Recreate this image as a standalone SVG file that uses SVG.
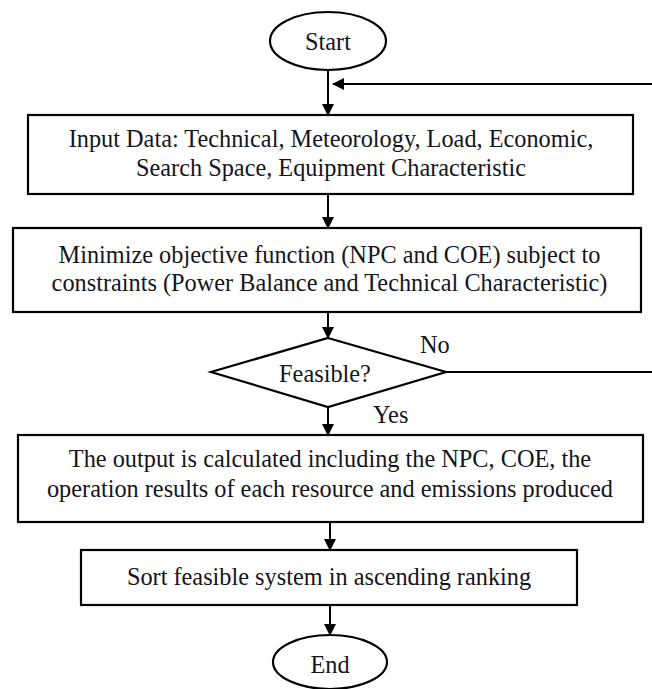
<svg xmlns="http://www.w3.org/2000/svg" width="652" height="689" viewBox="0 0 652 689">
<defs>
<marker id="ah" markerWidth="12" markerHeight="14" refX="11" refY="6" orient="auto" markerUnits="userSpaceOnUse" viewBox="0 0 12 12">
<path d="M0,0 L12,6 L0,12 Z" fill="#000"/>
</marker>
<style>
.n{fill:#fff;stroke:#000;stroke-width:2.2}
text{font-family:'Liberation Serif','Times New Roman',serif;font-size:24.3px;fill:#141420}
.t{text-anchor:middle}
.c{fill:none;stroke:#000;stroke-width:2}
</style>
</defs>
<rect width="652" height="689" fill="#fff"/>
<g id="connectors">
<line class="c" x1="328" y1="70" x2="328" y2="115" marker-end="url(#ah)"/>
<path class="c" d="M446,372 H662 V84 H333" marker-end="url(#ah)"/>
<line class="c" x1="328" y1="194" x2="328" y2="228" marker-end="url(#ah)"/>
<line class="c" x1="328" y1="312" x2="328" y2="338" marker-end="url(#ah)"/>
<line class="c" x1="328" y1="407" x2="328" y2="435" marker-end="url(#ah)"/>
<line class="c" x1="330" y1="522" x2="330" y2="550" marker-end="url(#ah)"/>
<line class="c" x1="330" y1="605" x2="330" y2="635" marker-end="url(#ah)"/>
<text x="420" y="353">No</text>
<text x="373" y="423">Yes</text>
</g>
<g id="start">
<ellipse class="n" cx="328" cy="41" rx="58" ry="29"/>
<text class="t" x="328" y="50">Start</text>
</g>
<g id="input">
<rect class="n" x="28" y="115" width="605" height="79"/>
<text class="t" x="331" y="147">Input Data: Technical, Meteorology, Load, Economic,</text>
<text class="t" x="331" y="176">Search Space, Equipment Characteristic</text>
</g>
<g id="minimize">
<rect class="n" x="13" y="228" width="628" height="84"/>
<text class="t" x="329.5" y="263">Minimize objective function (NPC and COE) subject to</text>
<text class="t" x="329.5" y="291">constraints (Power Balance and Technical Characteristic)</text>
</g>
<g id="feasible">
<polygon class="n" points="328,338 446,372 328,407 211,372"/>
<text class="t" x="325" y="382">Feasible?</text>
</g>
<g id="output">
<rect class="n" x="18" y="435" width="625" height="87"/>
<text class="t" x="330" y="467">The output is calculated including the NPC, COE, the</text>
<text class="t" x="330" y="497">operation results of each resource and emissions produced</text>
</g>
<g id="sort">
<rect class="n" x="81" y="550" width="496" height="55"/>
<text class="t" x="329" y="585">Sort feasible system in ascending ranking</text>
</g>
<g id="end">
<ellipse class="n" cx="330" cy="662" rx="57" ry="27"/>
<text class="t" x="330" y="673">End</text>
</g>
</svg>
